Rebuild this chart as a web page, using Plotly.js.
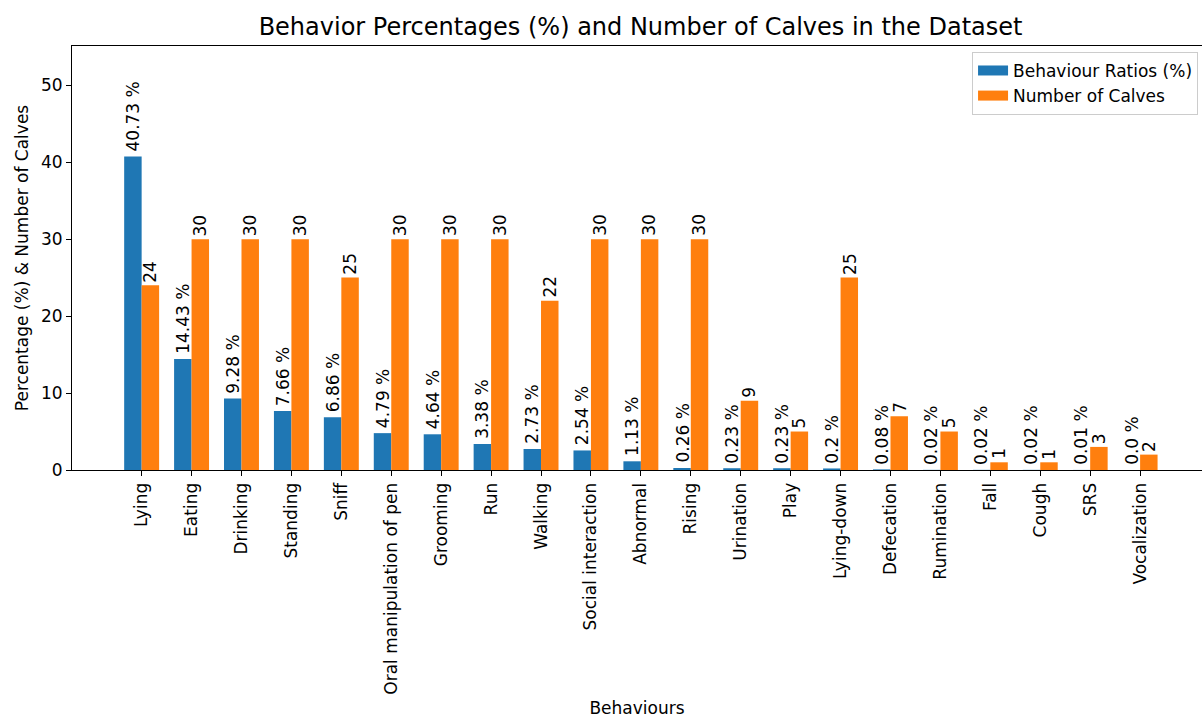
<!DOCTYPE html>
<html>
<head>
<meta charset="utf-8">
<script src="https://cdn.plot.ly/plotly-3.0.1.min.js"></script>
<style>html,body{margin:0;padding:0;background:#fff;}#chart{width:1202px;height:718px;}</style>
</head>
<body>
<div id="chart"></div>
<script>
const behaviours = ["Lying","Eating","Drinking","Standing","Sniff","Oral manipulation of pen","Grooming","Run","Walking","Social interaction","Abnormal","Rising","Urination","Play","Lying-down","Defecation","Rumination","Fall","Cough","SRS","Vocalization"];
const ratios = [40.73,14.43,9.28,7.66,6.86,4.79,4.64,3.38,2.73,2.54,1.13,0.26,0.23,0.23,0.2,0.08,0.02,0.02,0.02,0.01,0.0];
const calves = [24,30,30,30,25,30,30,30,22,30,30,30,9,5,25,7,5,1,1,3,2];
const yTicks = [0,10,20,30,40,50];
const seriesNames = ['Behaviour Ratios (%)', 'Number of Calves'];
const seriesColors = ['#1f77b4', '#ff7f0e'];

const W = 0.35;
const idx = behaviours.map((_, i) => i);
const fmtRatio = v => (Number.isInteger(v) ? v.toFixed(1) : String(v)) + " %";

const traces = [
  {type:'bar', name:seriesNames[0], x: idx.map(i => i - W/2), y: ratios, width: W,
   marker:{color:seriesColors[0], line:{width:0}}, hoverinfo:'y', showlegend:false},
  {type:'bar', name:seriesNames[1], x: idx.map(i => i + W/2), y: calves, width: W,
   marker:{color:seriesColors[1], line:{width:0}}, hoverinfo:'y', showlegend:false},
  // legend swatches (wide rectangles, as in the reference)
  {type:'scatter', mode:'lines', name:seriesNames[0], x:[null], y:[null], line:{color:seriesColors[0], width:11}, hoverinfo:'skip'},
  {type:'scatter', mode:'lines', name:seriesNames[1], x:[null], y:[null], line:{color:seriesColors[1], width:11}, hoverinfo:'skip'}
];

const font = "DejaVu Sans, sans-serif";
const FS = 17;
const annotations = [];
idx.forEach(i => {
  annotations.push({x: i - W/2, y: ratios[i], xref:'x', yref:'y', text: fmtRatio(ratios[i]),
    textangle:-90, showarrow:false, xanchor:'center', yanchor:'bottom', yshift:4, borderpad:0,
    font:{family:font, size:FS, color:'#000'}});
  annotations.push({x: i + W/2, y: calves[i], xref:'x', yref:'y', text: String(calves[i]),
    textangle:-90, showarrow:false, xanchor:'center', yanchor:'bottom', yshift:2, borderpad:0,
    font:{family:font, size:FS, color:'#000'}});
});

const layout = {
  width:1202, height:718,
  margin:{l:72, r:0, t:46, b:248, pad:0},
  paper_bgcolor:'#fff', plot_bgcolor:'#fff',
  font:{family:font, size:FS, color:'#000'},
  title:{text:'Behavior Percentages (%) and Number of Calves in the Dataset', font:{family:font, size:24, color:'#000'},
    xref:'container', x:0.5329, xanchor:'center', yref:'container', y:1-27/718, yanchor:'middle'},
  barmode:'overlay',
  showlegend:true,
  legend:{x:0.9965, xanchor:'right', y:0.986, yanchor:'top', bgcolor:'rgba(255,255,255,0.8)', bordercolor:'#cccccc', borderwidth:1,
    font:{family:font, size:FS, color:'#000'}, traceorder:'normal', itemwidth:30},
  xaxis:{type:'linear', range:[-1.395, 21.24], tickmode:'array', tickvals: idx, ticktext: behaviours,
    tickangle:-90, ticks:'outside', ticklen:5, tickwidth:1, tickcolor:'#000',
    showline:true, linecolor:'#000', linewidth:1, mirror:true, showgrid:false, zeroline:false,
    tickfont:{family:font, size:FS, color:'#000'},
    title:{text:'Behaviours', font:{family:font, size:FS, color:'#000'}, standoff:11}},
  yaxis:{range:[0, 55.1], tickmode:'array', tickvals: yTicks, ticktext: yTicks.map(String),
    ticks:'outside', ticklen:5, tickwidth:1, tickcolor:'#000',
    showline:true, linecolor:'#000', linewidth:1, showgrid:false, zeroline:false,
    tickfont:{family:font, size:FS, color:'#000'},
    title:{text:'Percentage (%) & Number of Calves', font:{family:font, size:FS, color:'#000'}, standoff:8}},
  annotations: annotations
};

Plotly.newPlot('chart', traces, layout, {displayModeBar:false, staticPlot:true});
</script>
</body>
</html>
